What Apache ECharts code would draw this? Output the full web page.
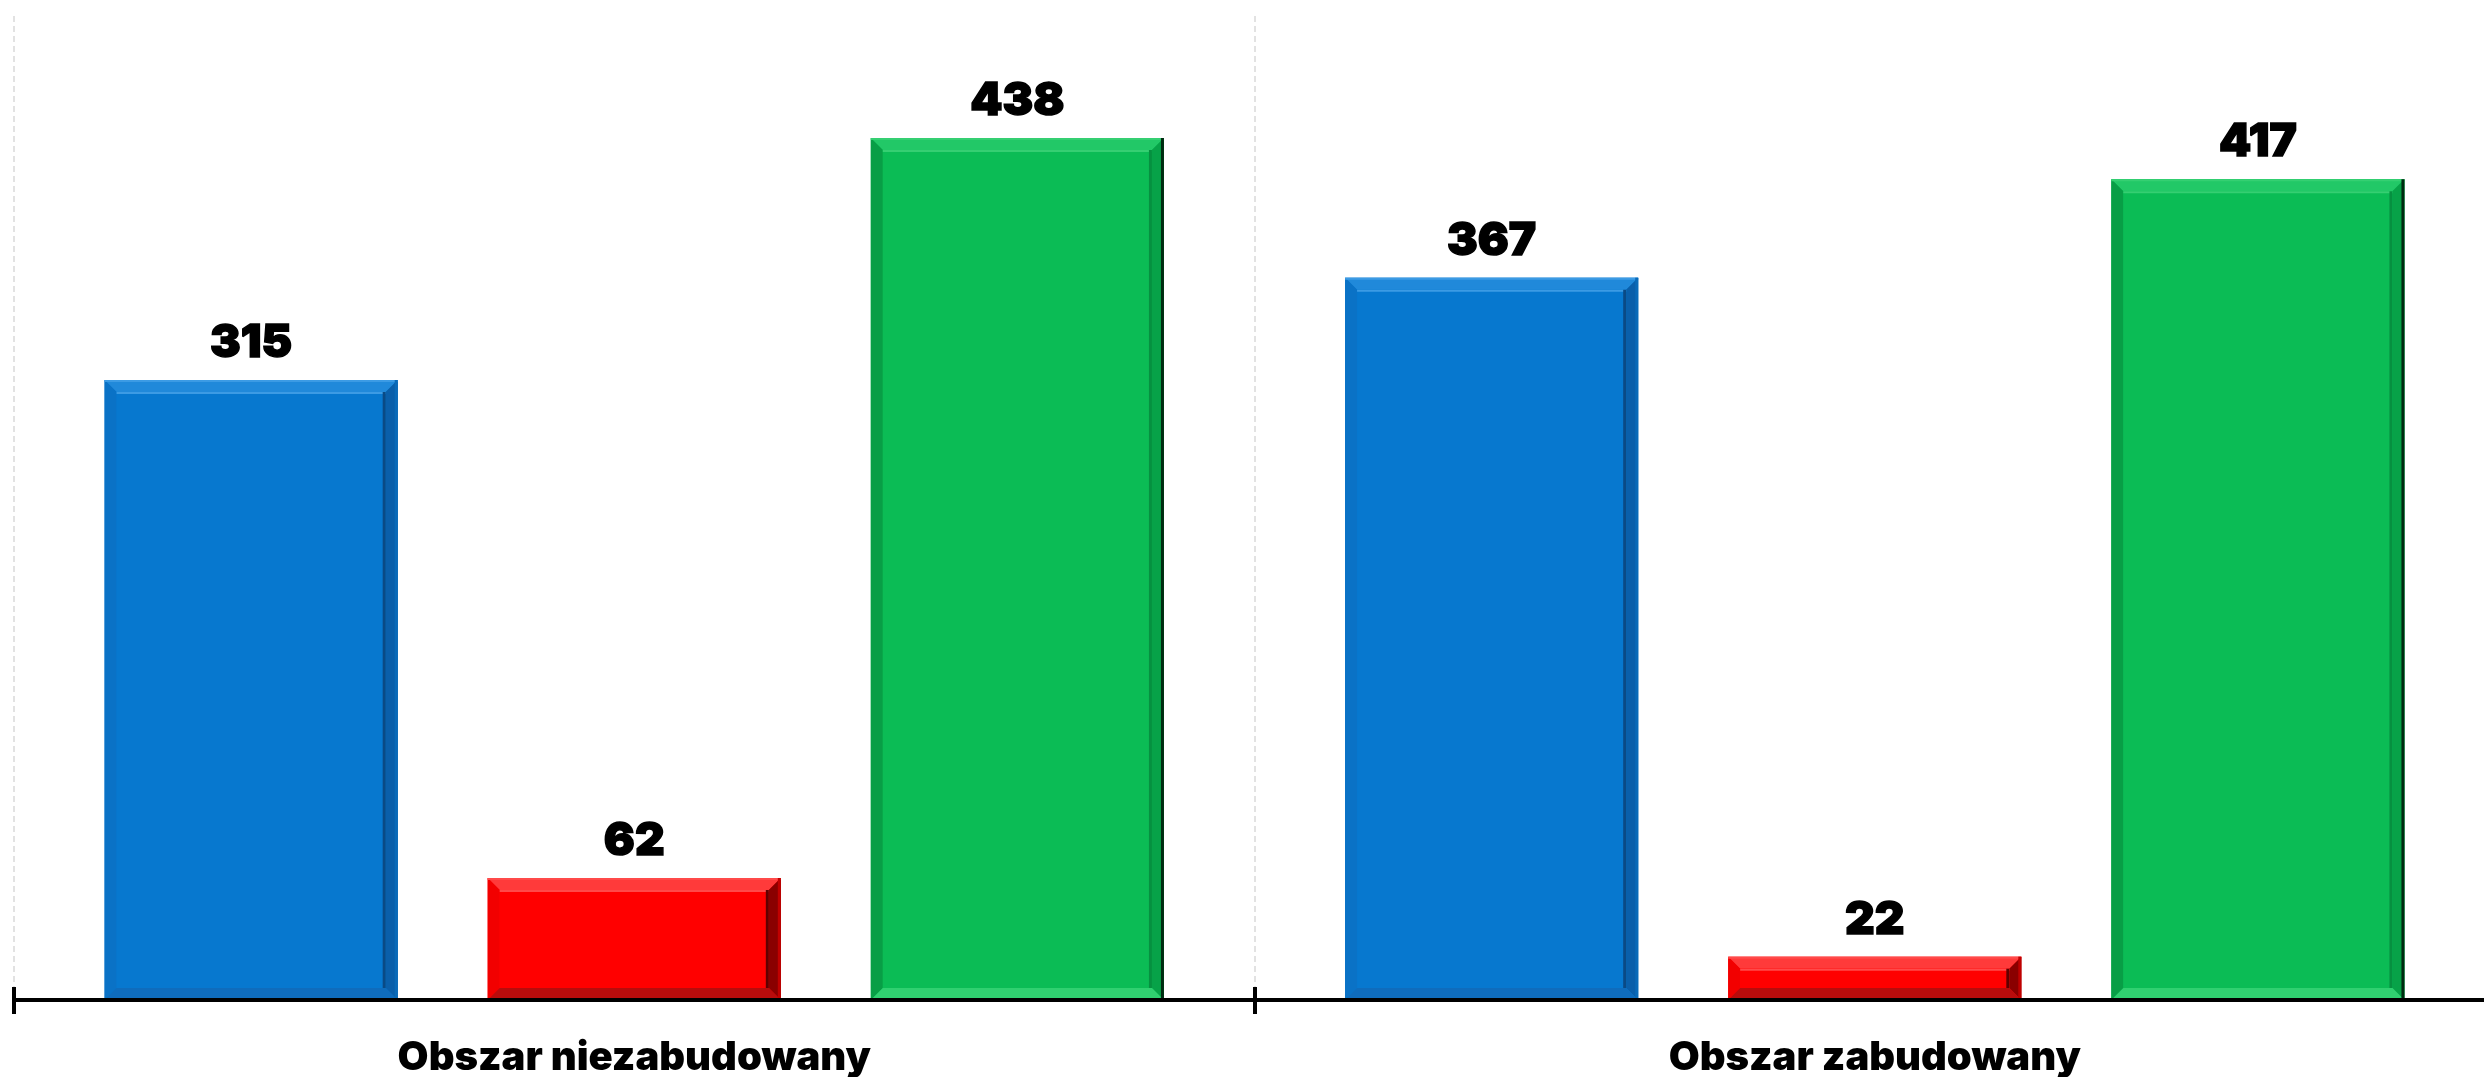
<!DOCTYPE html>
<html>
<head>
<meta charset="utf-8">
<script src="https://cdn.jsdelivr.net/npm/echarts@6/dist/echarts.min.js"></script>
<style>
html,body{margin:0;padding:0;background:#fff;}
#chart{width:2484px;height:1077px;}
</style>
</head>
<body>
<div id="chart"></div>
<script>
// ---- data ----
const categories = ['Obszar niezabudowany', 'Obszar zabudowany'];
const seriesNames = ['Seria 1', 'Seria 2', 'Seria 3'];
const valuesBlue = [315, 367];
const valuesRed = [62, 22];
const valuesGreen = [438, 417];

// ---- styles ----
const FONT = 'Inter, "Liberation Sans", Arial, sans-serif';
const BAR_FRAC = 0.2363;
const GAP_FRAC = 0.307;
const BEVEL = 12;
const palettes = [
  {main:'#0778CF', top:'#2089DA', left:'#0A72C6', right:'#0A5FAA', bottom:'#0F6CBC', innerTop:'#3C9BE4', innerRight:'#0A4A85', edge:'#0A6AB8'},
  {main:'#FF0000', top:'#FF3A3A', left:'#F20000', right:'#8A0000', bottom:'#B80C0C', innerTop:'#FF4A4A', innerRight:'#600000', edge:'#C00000'},
  {main:'#0BBC55', top:'#22C867', left:'#089E46', right:'#07A248', bottom:'#30D070', innerTop:'#35CF72', innerRight:'#069040', edge:'#002A10'}
];

function makeRender(sIdx) {
  const p = palettes[sIdx];
  return function (params, api) {
    const ci = api.value(0), val = api.value(1);
    const base = api.coord([ci, 0]);
    const topPt = api.coord([ci, val]);
    const band = api.size([1, 0])[0];
    const bw = band * BAR_FRAC;
    const gap = bw * GAP_FRAC;
    const cx = base[0] + (sIdx - 1) * (bw + gap);
    const x0 = cx - bw / 2, x1 = cx + bw / 2;
    const y0 = topPt[1], y1 = base[1];
    const b = Math.min(BEVEL, (y1 - y0) / 2.5);
    const children = [
      {type:'rect', shape:{x:x0, y:y0, width:bw, height:y1 - y0}, style:{fill:p.main}},
      {type:'polygon', shape:{points:[[x0,y0],[x1,y0],[x1-b,y0+b],[x0+b,y0+b]]}, style:{fill:p.top}},
      {type:'polygon', shape:{points:[[x0,y0],[x0+b,y0+b],[x0+b,y1-b],[x0,y1]]}, style:{fill:p.left}},
      {type:'polygon', shape:{points:[[x1,y0],[x1,y1],[x1-b,y1-b],[x1-b,y0+b]]}, style:{fill:p.right}},
      {type:'polygon', shape:{points:[[x0,y1],[x0+b,y1-b],[x1-b,y1-b],[x1,y1]]}, style:{fill:p.bottom}},
      {type:'rect', shape:{x:x0+b, y:y0+b, width:bw-2*b, height:Math.max(0,y1-y0-2*b)}, style:{fill:p.main}},
      {type:'rect', shape:{x:x0+b, y:y0+b, width:bw-2*b, height:2}, style:{fill:p.innerTop}},
      {type:'rect', shape:{x:x1-b-3, y:y0+b, width:3, height:Math.max(0,y1-y0-2*b)}, style:{fill:p.innerRight}},
      {type:'rect', shape:{x:x0, y:y0, width:bw, height:2}, style:{fill:p.innerTop}},
      {type:'rect', shape:{x:x1-3, y:y0, width:3, height:y1-y0}, style:{fill:p.edge}},
      {type:'text', style:{text:String(val), x:cx, y:y0 - 14, align:'center', verticalAlign:'bottom',
        font:'900 46px ' + FONT, fill:'#000', stroke:'#000', lineWidth:1.5}}
    ];
    return {type:'group', children:children};
  };
}

const seriesData = [valuesBlue, valuesRed, valuesGreen];

const chart = echarts.init(document.getElementById('chart'), null, {renderer:'canvas'});
chart.setOption({
  animation:false,
  backgroundColor:'#fff',
  grid:{left:14, width:2481, top:16, bottom:77, containLabel:false, outerBoundsMode:'none'},
  xAxis:[{
    type:'category', data:categories, z:5,
    axisLine:{show:true, lineStyle:{color:'#000', width:4}},
    axisTick:{show:true, length:14, lineStyle:{color:'#000', width:4}},
    axisLabel:{show:true, color:'#000', fontFamily:FONT, fontWeight:900, fontSize:40, margin:38},
    splitLine:{show:true, lineStyle:{color:'#D9D9D9', type:[6,4], width:1.5}}
  },{
    type:'category', data:categories, position:'bottom', z:5,
    axisLine:{show:false},
    axisTick:{show:true, inside:true, length:13, lineStyle:{color:'#000', width:4}},
    axisLabel:{show:false}, splitLine:{show:false}
  }],
  yAxis:{type:'value', min:0, max:500, show:false, splitLine:{show:false}},
  series: seriesData.map((vals, i) => ({
    type:'custom', name:seriesNames[i], xAxisIndex:0, z:1,
    renderItem:makeRender(i),
    encode:{x:0, y:1},
    data: vals.map((v, ci) => [ci, v])
  }))
});
</script>
</body>
</html>
